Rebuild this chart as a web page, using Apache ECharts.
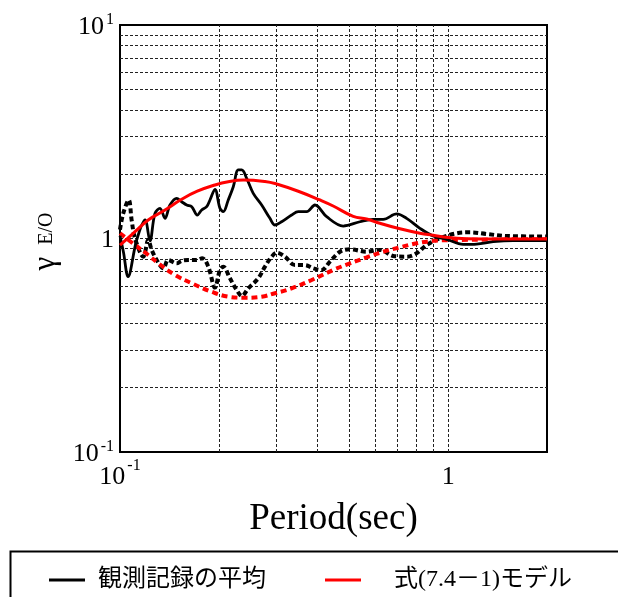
<!DOCTYPE html>
<html>
<head>
<meta charset="utf-8">
<script src="https://cdn.jsdelivr.net/npm/echarts@6/dist/echarts.min.js"></script>
<style>
  html, body { margin: 0; padding: 0; background: #fff; }
  #chart { width: 618px; height: 597px; }
</style>
</head>
<body>
<div id="chart"></div>
<script>
// Observed mean ratio γE/O vs period (sec)
const obsPeriod = [0.1, 0.1025, 0.1058, 0.1124, 0.1192, 0.1234, 0.1278, 0.1324, 0.1371, 0.142,
  0.1488, 0.1541, 0.1597, 0.1654, 0.172, 0.1774, 0.1837, 0.188, 0.1947, 0.2016,
  0.2064, 0.2137, 0.2214, 0.2293, 0.2349, 0.2432, 0.2547, 0.2702, 0.2863, 0.2966,
  0.3108, 0.3334, 0.3493, 0.3705, 0.3926, 0.4263, 0.4788, 0.5383, 0.5909, 0.6339,
  0.6964, 0.747, 0.8201, 0.9001, 0.9888, 1.111, 1.221, 1.372, 1.578, 2.0];
const obsRatio = [1.03, 0.86, 0.663, 0.984, 1.221, 0.975, 1.312, 1.385, 1.243, 1.435,
  1.543, 1.487, 1.435, 1.409, 1.288, 1.36, 1.409, 1.515, 1.70, 1.385,
  1.335, 1.515, 1.748, 2.094, 2.094, 1.914, 1.628, 1.435, 1.243, 1.157,
  1.198, 1.288, 1.335, 1.335, 1.435, 1.265, 1.144, 1.198, 1.23, 1.23,
  1.303, 1.243, 1.116, 1.027, 0.991, 0.939, 0.942, 0.966, 0.977, 0.977];

// Observed mean, second component (dashed)
const obs2Period = [0.1, 0.1023, 0.1063, 0.1085, 0.1111, 0.1178, 0.1219, 0.1249, 0.1294, 0.1355,
  0.1403, 0.1488, 0.1541, 0.1615, 0.1712, 0.1781, 0.1858, 0.1947, 0.2016, 0.2064,
  0.2163, 0.2267, 0.2352, 0.2459, 0.2638, 0.2765, 0.2898, 0.3001, 0.3182, 0.3412,
  0.366, 0.388, 0.4115, 0.4362, 0.4679, 0.5018, 0.5642, 0.6194, 0.68, 0.747,
  0.801, 0.8595, 0.9434, 1.061, 1.165, 1.309, 1.506, 2.0];
const obs2Ratio = [1.1, 1.312, 1.515, 1.221, 1.002, 0.822, 0.984, 0.884, 0.793, 0.725,
  0.793, 0.765, 0.786, 0.793, 0.793, 0.808, 0.738, 0.589, 0.712, 0.738,
  0.651, 0.574, 0.538, 0.584, 0.651, 0.738, 0.822, 0.858, 0.822, 0.751,
  0.751, 0.725, 0.712, 0.779, 0.867, 0.89, 0.867, 0.884, 0.828, 0.822,
  0.852, 0.932, 1.002, 1.058, 1.069, 1.05, 1.027, 1.022];

// Model, eq. (7.4-1)
const modelPeriod = [0.1, 0.1111, 0.1219, 0.1371, 0.1541, 0.172, 0.1947, 0.2137, 0.2375, 0.2765,
  0.3001, 0.3493, 0.4064, 0.4463, 0.5135, 0.5642, 0.6194, 0.7128, 0.82, 0.9,
  1.0, 1.138, 1.437, 2.0];
const modelRatio = [0.93, 1.076, 1.221, 1.36, 1.526, 1.665, 1.781, 1.845, 1.879, 1.85,
  1.80, 1.665, 1.515, 1.42, 1.27, 1.234, 1.178, 1.11, 1.058, 1.035,
  1.01, 0.998, 0.994, 0.994];

// Model, second component (dashed)
const model2Period = [0.1, 0.1111, 0.1219, 0.1308, 0.1471, 0.1654, 0.1902, 0.2137, 0.2403, 0.2702,
  0.2966, 0.3334, 0.3837, 0.4463, 0.5018, 0.5642, 0.6339, 0.7128, 0.801, 0.9,
  1.012, 1.437, 2.0];
const model2Ratio = [1.058, 0.932, 0.837, 0.765, 0.675, 0.617, 0.563, 0.534, 0.528, 0.534,
  0.554, 0.584, 0.639, 0.712, 0.765, 0.816, 0.867, 0.909, 0.95, 0.975,
  0.982, 0.99, 0.992];

// Dashed grid positions
const gridPeriods = [0.2, 0.3, 0.4, 0.5, 0.6, 0.7, 0.8, 0.9, 1];
const gridRatios = [0.2, 0.3, 0.4, 0.5, 0.6, 0.7, 0.8, 0.9, 1, 2, 3, 4, 5, 6, 7, 8, 9];

// Tick labels (power-of-ten exponent -> label)
const xTickLabels = { '-1': '{b|10}{s|-1}', '0': '{b|1}' };
const yTickLabels = { '-1': '{b|10}{s|-1}', '0': '{b|1}', '1': '{b|10}{s|1}' };

const legendNames = ['観測記録の平均', '式(7.4－1)モデル'];

const serif = '"Liberation Serif", "Times New Roman", serif';
const jp = '"Liberation Serif", "Noto Sans CJK JP", serif';

function pairs(xs, ys) { return xs.map((x, i) => [x, ys[i]]); }
function expKey(v) {
  const e = Math.round(Math.log10(v));
  return Math.abs(Math.log10(v) - e) < 1e-6 ? String(e) : null;
}

// Base number with a raised exponent
function powerRich(bottomPad) {
  return {
    b: { fontSize: 26, fontFamily: serif, color: '#000', lineHeight: 26, padding: [13, 0, bottomPad, 0] },
    s: { fontSize: 16, fontFamily: serif, color: '#000', lineHeight: 16, verticalAlign: 'top', padding: [0, 0, 0, 2] }
  };
}

const chart = echarts.init(document.getElementById('chart'), null, { renderer: 'canvas' });

chart.setOption({
  backgroundColor: '#fff',
  animation: false,
  grid: {
    left: 120, top: 25, width: 427, height: 427,
    show: true, borderColor: '#000', borderWidth: 2, backgroundColor: 'transparent'
  },
  xAxis: {
    type: 'log', logBase: 10, min: 0.1, max: 2,
    axisLine: { show: false }, axisTick: { show: false },
    splitLine: { show: false }, minorSplitLine: { show: false },
    axisLabel: {
      margin: 6,
      formatter: v => { const k = expKey(v); return k !== null && xTickLabels[k] ? xTickLabels[k] : ''; },
      rich: powerRich(0)
    },
    name: 'Period(sec)', nameLocation: 'middle', nameGap: 49,
    nameTextStyle: { fontSize: 37, fontFamily: serif, color: '#000' }
  },
  yAxis: {
    type: 'log', logBase: 10, min: 0.1, max: 10,
    axisLine: { show: false }, axisTick: { show: false },
    splitLine: { show: false }, minorSplitLine: { show: false },
    axisLabel: {
      margin: 6,
      formatter: v => { const k = expKey(v); return k !== null && yTickLabels[k] ? yTickLabels[k] : ''; },
      rich: powerRich(9)
    },
    name: '{g|γ}{s|E/O}', nameLocation: 'middle', nameGap: 35, nameRotate: 90,
    nameTextStyle: {
      rich: {
        g: { fontSize: 31, fontFamily: serif, color: '#000', padding: [0, 12, 0, 0] },
        s: { fontSize: 20, fontFamily: serif, color: '#000', padding: [0, 6, 0, 0] }
      }
    }
  },
  legend: [
    {
      data: [{ name: legendNames[0], icon: 'rect' }],
      left: 44, top: 563, itemWidth: 36, itemHeight: 3,
      textStyle: { fontSize: 24, fontFamily: jp, color: '#000', padding: [0, 0, 0, 8] }
    },
    {
      data: [{ name: legendNames[1], icon: 'rect' }],
      left: 320, top: 563, itemWidth: 36, itemHeight: 3,
      textStyle: { fontSize: 24, fontFamily: jp, color: '#000', padding: [0, 0, 0, 28] }
    }
  ],
  graphic: [
    {
      type: 'rect', left: 8, top: 549, silent: true,
      shape: { width: 700, height: 100 },
      style: { fill: 'none', stroke: '#000', lineWidth: 2 }
    }
  ],
  series: [
    {
      name: legendNames[0], type: 'line', data: pairs(obs2Period, obs2Ratio),
      showSymbol: false, smooth: 0.35, z: 3,
      itemStyle: { color: '#000' },
      lineStyle: { color: '#000', width: 4, type: [5, 3] },
      markLine: {
        z: 1, silent: true, symbol: 'none', animation: false,
        label: { show: false },
        lineStyle: { color: '#222', width: 1, type: [3, 2] },
        data: gridPeriods.map(v => ({ xAxis: v })).concat(gridRatios.map(v => ({ yAxis: v })))
      }
    },
    {
      name: legendNames[1], type: 'line', data: pairs(model2Period, model2Ratio),
      showSymbol: false, smooth: 0.4, z: 3,
      itemStyle: { color: '#ff0000' },
      lineStyle: { color: '#ff0000', width: 4, type: [6, 4] }
    },
    {
      name: legendNames[0], type: 'line', data: pairs(obsPeriod, obsRatio),
      showSymbol: false, smooth: 0.35, z: 4,
      itemStyle: { color: '#000' },
      lineStyle: { color: '#000', width: 2.8 }
    },
    {
      name: legendNames[1], type: 'line', data: pairs(modelPeriod, modelRatio),
      showSymbol: false, smooth: 0.45, z: 5,
      itemStyle: { color: '#ff0000' },
      lineStyle: { color: '#ff0000', width: 3 }
    }
  ]
});
</script>
</body>
</html>
